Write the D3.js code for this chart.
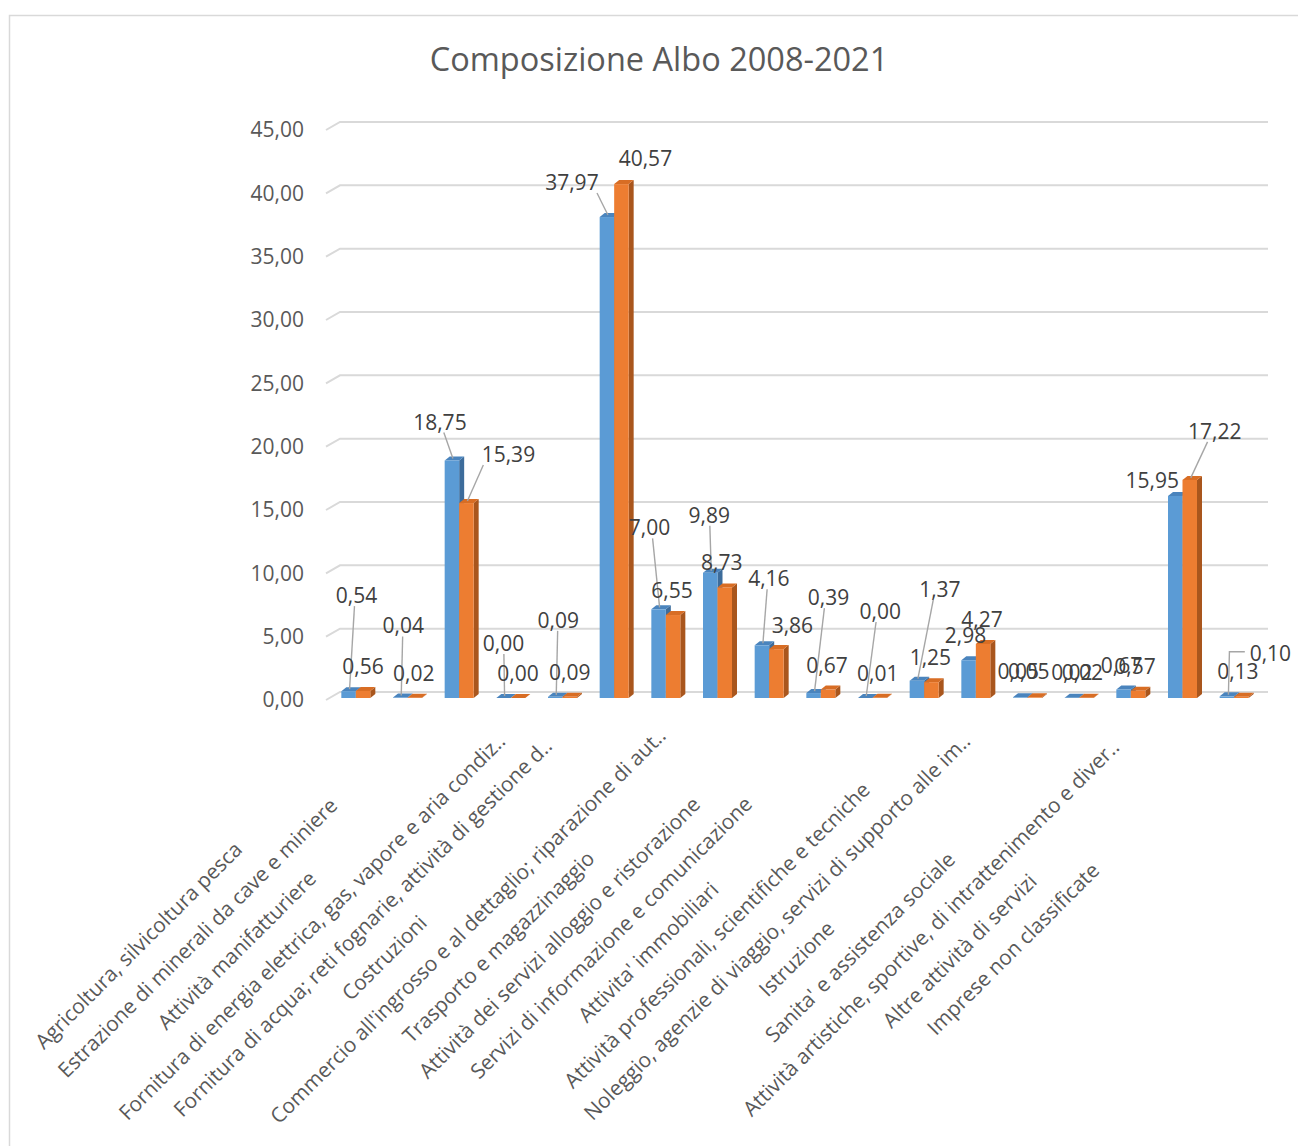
<!DOCTYPE html>
<html>
<head>
<meta charset="utf-8">
<script src="https://cdn.jsdelivr.net/npm/d3@7"></script>
<style>
  html, body { margin: 0; padding: 0; background: #fff; }
  svg { display: block; font-family: "Open Sans", "DejaVu Sans", sans-serif; }
</style>
</head>
<body>
<svg id="chart" width="1298" height="1146"></svg>
<script>
// ---- data ----
const categories = [
  "Agricoltura, silvicoltura pesca",
  "Estrazione di minerali da cave e miniere",
  "Attività manifatturiere",
  "Fornitura di energia elettrica, gas, vapore e aria condiz..",
  "Fornitura di acqua; reti fognarie, attività di gestione d..",
  "Costruzioni",
  "Commercio all'ingrosso e al dettaglio; riparazione di aut..",
  "Trasporto e magazzinaggio",
  "Attività dei servizi alloggio e ristorazione",
  "Servizi di informazione e comunicazione",
  "Attivita' immobiliari",
  "Attività professionali, scientifiche e tecniche",
  "Noleggio, agenzie di viaggio, servizi di supporto alle im..",
  "Istruzione",
  "Sanita'  e assistenza sociale",
  "Attività artistiche, sportive, di intrattenimento e diver..",
  "Altre attività di servizi",
  "Imprese non classificate"
];
const serie1 = [0.54, 0.04, 18.75, 0.00, 0.09, 37.97, 7.00, 9.89, 4.16, 0.39, 0.00, 1.37, 2.98, 0.05, 0.02, 0.67, 15.95, 0.13];
const serie2 = [0.56, 0.02, 15.39, 0.00, 0.09, 40.57, 6.55, 8.73, 3.86, 0.67, 0.01, 1.25, 4.27, 0.05, 0.02, 0.57, 17.22, 0.10];
const yTicks = [0, 5, 10, 15, 20, 25, 30, 35, 40, 45];
const title = "Composizione Albo 2008-2021";

// ---- data label placement (offset from the bar top, leader style: 0 none, 1 straight, 2 elbow) ----
const labelOffset1 = [[8,-96],[3,-72],[-12,-39],[0,-55],[3,-77],[-35,-35],[-9,-82],[-1,-58],[7,-67],[15,-96],[15,-87],[23,-92],[-3,-25],[-2,-26],[0,-26],[-2,-25],[-23,-16],[11,-25]];
const labelOffset2 = [[0,-25],[-1,-25],[42,-49],[0,-25],[0,-25],[24,-26],[-1,-25],[-3,-25],[16,-24],[-1,-25],[-2,-25],[-1,-25],[-1,-25],[-6,-26],[-4,-26],[-3,-25],[25,-49],[29,-44]];
const leader1 = [1,1,1,1,1,1,1,1,1,1,1,1,0,0,0,0,0,0];
const leader2 = [0,0,1,0,0,0,0,0,0,0,0,0,0,0,0,0,1,2];

// ---- layout ----
const svg = d3.select("#chart");
const locale = d3.formatLocale({ decimal: ",", thousands: ".", grouping: [3], currency: ["€", ""] });
const fmt = locale.format(".2f");

const depthX = 5, depthY = -4;          // bar extrusion
const wallX = 14, wallY = -8;           // gridline wall offset

const yFront = d3.scaleLinear().domain([0, 45]).range([698, 128]);   // bar front faces
const yAxis = d3.scaleLinear().domain([0, 45]).range([700, 130]);    // front edge of gridlines
const x = d3.scaleBand().domain(categories).range([330, 1260]).padding(0);
const xInner = d3.scaleBand().domain(["s1", "s2"]).range([0, 29]);

// chart border
svg.append("rect")
  .attr("x", 9.5).attr("y", 15.5).attr("width", 1400).attr("height", 1300)
  .attr("fill", "none").attr("stroke", "#D9D9D9").attr("stroke-width", 1.5);

// title
svg.append("text")
  .attr("x", 659).attr("y", 58)
  .attr("text-anchor", "middle").attr("dominant-baseline", "central")
  .attr("font-size", 32.5).attr("fill", "#595959")
  .text(title);

// gridlines (with the receding wall segment at the left)
const grid = svg.append("g").attr("fill", "none").attr("stroke", "#D9D9D9").attr("stroke-width", 2);
grid.selectAll("path").data(yTicks).join("path")
  .attr("d", v => {
    const y0 = yAxis(v);
    return `M326,${y0} L${326 + wallX},${y0 + wallY} L1268,${y0 + wallY}`;
  });

// y axis labels
const yAxisG = svg.append("g")
  .attr("transform", "translate(310,0)")
  .call(d3.axisLeft(yAxis).tickValues(yTicks).tickSize(0).tickPadding(6).tickFormat(fmt));
yAxisG.select(".domain").remove();
yAxisG.selectAll("text")
  .attr("font-family", "'Open Sans', sans-serif")
  .attr("font-size", 21).attr("fill", "#595959");

// bars
const series = [
  { key: "s1", values: serie1, front: "#5B9BD5", top: "#4A84BD", side: "#3D6C9B" },
  { key: "s2", values: serie2, front: "#ED7D31", top: "#D86D24", side: "#A9561D" }
];
const bars = svg.append("g");
series.forEach(s => {
  const g = bars.append("g");
  categories.forEach((c, i) => {
    const left = x(c) + x.bandwidth() / 2 - 14.5 + xInner(s.key);
    const w = xInner.bandwidth();
    const yt = yFront(s.values[i]);
    const yb = yFront(0);
    const bg = g.append("g");
    // side face
    bg.append("path")
      .attr("d", `M${left + w},${yt} L${left + w + depthX},${yt + depthY} L${left + w + depthX},${yb + depthY} L${left + w},${yb} Z`)
      .attr("fill", s.side);
    // top face
    bg.append("path")
      .attr("d", `M${left},${yt} L${left + depthX},${yt + depthY} L${left + w + depthX},${yt + depthY} L${left + w},${yt} Z`)
      .attr("fill", s.top);
    // front face
    bg.append("rect")
      .attr("x", left).attr("y", yt).attr("width", w).attr("height", Math.max(0, yb - yt))
      .attr("fill", s.front);
  });
});

// data labels with leader lines
const labels = svg.append("g");
const labelSets = [
  { key: "s1", values: serie1, offs: labelOffset1, lead: leader1 },
  { key: "s2", values: serie2, offs: labelOffset2, lead: leader2 }
];
labelSets.forEach(set => {
  categories.forEach((c, i) => {
    const bx = x(c) + x.bandwidth() / 2 - 14.5 + xInner(set.key) + xInner.bandwidth() / 2;
    const by = yFront(set.values[i]);
    const lx = bx + set.offs[i][0];
    const ly = by + set.offs[i][1];
    const txt = fmt(set.values[i]);
    const halfW = txt.length * 5.9, halfH = 11;
    const tx = bx + 1, ty = by - 2;
    if (set.lead[i] === 1) {
      // leader starts under the label, slid toward the bar when it lies well aside
      const dxl = tx - lx;
      const sx = Math.abs(dxl) > halfW ? lx + Math.sign(dxl) * halfW * 0.85 : lx + dxl * 0.3;
      const sy = ly + halfH;
      labels.append("path")
        .attr("d", `M${sx},${sy} L${tx},${ty}`)
        .attr("stroke", "#A6A6A6").attr("stroke-width", 1.4).attr("fill", "none");
    } else if (set.lead[i] === 2) {
      const sx = lx - halfW - 2, sy = ly - 1;
      labels.append("path")
        .attr("d", `M${sx},${sy} L${tx - 13},${sy} L${tx - 14},${ty}`)
        .attr("stroke", "#A6A6A6").attr("stroke-width", 1.4).attr("fill", "none");
    }
    labels.append("text")
      .attr("x", lx).attr("y", ly)
      .attr("text-anchor", "middle").attr("dominant-baseline", "central")
      .attr("font-size", 21).attr("fill", "#404040")
      .text(txt);
  });
});

// category labels, rotated; longer labels sit slightly further up along their own direction
const xl = svg.append("g");
categories.forEach(c => {
  const cx = x(c) + x.bandwidth() / 2 - 222;
  const cy = 949;
  const t = xl.append("text")
    .attr("text-anchor", "middle").attr("dominant-baseline", "central")
    .attr("font-size", 20.8).attr("fill", "#595959")
    .text(c);
  const len = t.node().getComputedTextLength();
  t.attr("x", 0.103 * (len - 225))
   .attr("transform", `translate(${cx},${cy}) rotate(-45)`);
});
</script>
</body>
</html>
